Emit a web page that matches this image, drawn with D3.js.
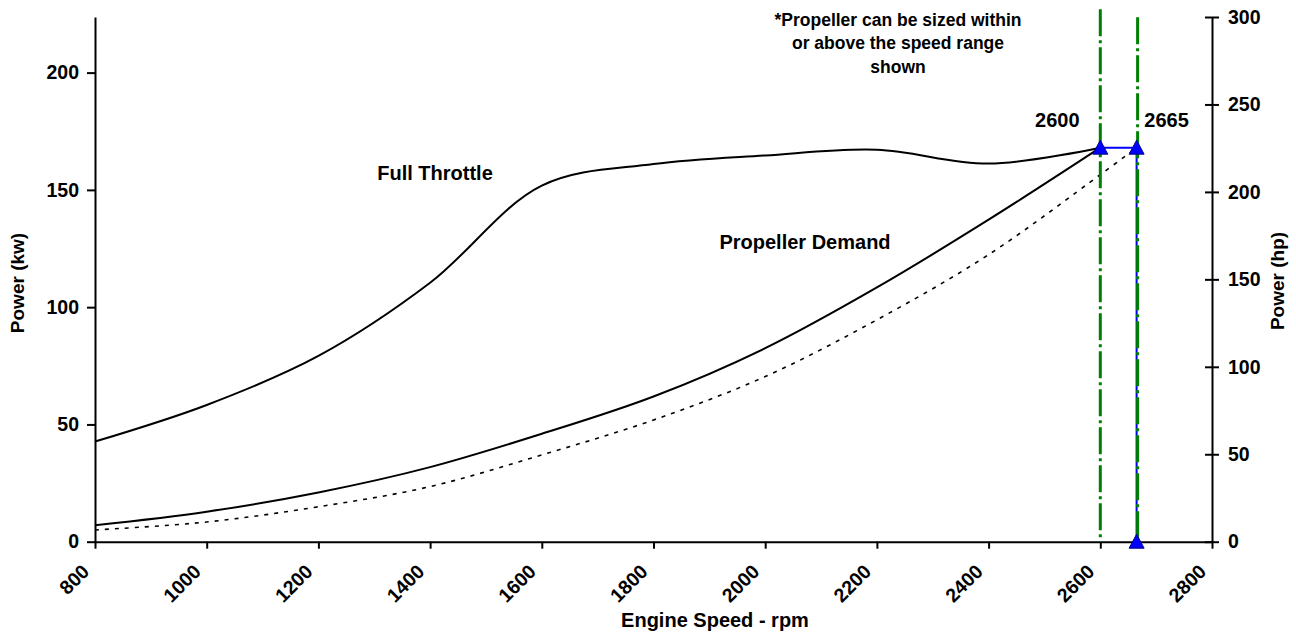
<!DOCTYPE html>
<html>
<head>
<meta charset="utf-8">
<script src="https://cdn.jsdelivr.net/npm/d3@7"></script>
<style>
  body { margin: 0; background: #fff; }
  svg text { font-family: "Liberation Sans", Arial, sans-serif; font-weight: bold; fill: #000; }
</style>
</head>
<body>
<div id="chart"></div>
<script>
// engine speed (rpm) where the curves were read
var rpm = [800, 1000, 1200, 1400, 1600, 1800, 2000, 2200, 2400, 2600];
// power in kW
var fullThrottle = [42.7, 58.3, 79.2, 110.4, 151.8, 161.0, 164.7, 167.1, 161.2, 168.0];
var propDemand = [7.0, 12.8, 21.0, 31.8, 46.0, 61.9, 82.5, 108.4, 137.3, 168.0];
var propRpmHigh = [800, 1000, 1200, 1400, 1600, 1800, 2000, 2200, 2400, 2600, 2665];
var propDemandHigh = [5.0, 8.4, 14.9, 23.5, 37.0, 51.9, 70.4, 94.6, 122.4, 156.5, 168.0];
// rated point + speed range markers
var ratedRpm = [2600, 2665];
var ratedKw = 168.0;
var rangeTopKw = 227;

var xTicks = [800, 1000, 1200, 1400, 1600, 1800, 2000, 2200, 2400, 2600, 2800];
var kwTicks = [0, 50, 100, 150, 200];
var hpTicks = [0, 50, 100, 150, 200, 250, 300];
var note = ["*Propeller can be sized within", "or above the speed range", "shown"];

var W = 1296, H = 635;
var plotL = 95, plotR = 1212, plotT = 17, plotB = 541.7;

var svg = d3.select("#chart").append("svg")
    .attr("width", W).attr("height", H);

var x = d3.scaleLinear().domain([800, 2800]).range([plotL, plotR]);
var yHp = d3.scaleLinear().domain([0, 300]).range([plotB, plotT]);
var yKw = d3.scaleLinear().domain([0, 300 * 0.7457]).range([plotB, plotT]);

// axes
var gx = svg.append("g").attr("transform", "translate(0," + plotB + ")")
    .call(d3.axisBottom(x).tickValues(xTicks).tickSizeInner(7).tickSizeOuter(0).tickFormat(d3.format("d")));
gx.selectAll("text")
    .attr("text-anchor", "end")
    .attr("transform", "translate(-5,31) rotate(-45)")
    .attr("x", 0).attr("y", 0).attr("dy", "0")
    .style("font-size", "19.5px");

var gl = svg.append("g").attr("transform", "translate(" + plotL + ",0)")
    .call(d3.axisLeft(yKw).tickValues(kwTicks).tickSizeInner(8).tickSizeOuter(0).tickPadding(8));
gl.selectAll("text").style("font-size", "19.5px");

var gr = svg.append("g").attr("transform", "translate(" + plotR + ",0)")
    .call(d3.axisRight(yHp).tickValues(hpTicks).tickSizeInner(7).tickSizeOuter(0).tickPadding(9));
gr.selectAll(".tick line").attr("x1", -7);
gr.selectAll("text").style("font-size", "19.5px");

svg.selectAll(".domain").attr("stroke", "#000").attr("stroke-width", 2);
svg.selectAll(".tick line").attr("stroke", "#000").attr("stroke-width", 2);
svg.selectAll(".tick text").attr("fill", "#000");

// axis titles
svg.append("text").attr("x", 715).attr("y", 627)
    .attr("text-anchor", "middle").style("font-size", "20px").text("Engine Speed - rpm");
svg.append("text").attr("transform", "translate(24,283) rotate(-90)")
    .attr("text-anchor", "middle").style("font-size", "19px").text("Power (kw)");
svg.append("text").attr("transform", "translate(1284,281) rotate(-90)")
    .attr("text-anchor", "middle").style("font-size", "19px").text("Power (hp)");

// curves
var line = d3.line()
    .x(function(d) { return x(d[0]); })
    .y(function(d) { return yKw(d[1]); })
    .curve(d3.curveCatmullRom.alpha(0.5));

svg.append("path").datum(d3.zip(rpm, fullThrottle))
    .attr("d", line).attr("fill", "none").attr("stroke", "#000").attr("stroke-width", 2);
svg.append("path").datum(d3.zip(rpm, propDemand))
    .attr("d", line).attr("fill", "none").attr("stroke", "#000").attr("stroke-width", 2);
svg.append("path").datum(d3.zip(propRpmHigh, propDemandHigh))
    .attr("d", line).attr("fill", "none").attr("stroke", "#000").attr("stroke-width", 1.6)
    .attr("stroke-dasharray", "4,6");

// blue rated power line
var bluePts = [[ratedRpm[0], ratedKw], [ratedRpm[1], ratedKw], [ratedRpm[1], 0]];
svg.append("path").datum(bluePts)
    .attr("d", d3.line().x(function(d) { return x(d[0]); }).y(function(d) { return yKw(d[1]); }))
    .attr("fill", "none").attr("stroke", "#0000ff").attr("stroke-width", 2);

// speed range (green dash-dot), drawn over the blue line
svg.selectAll(".range").data(ratedRpm).enter().append("line")
    .attr("class", "range")
    .attr("x1", function(d, k) { return x(d) + k; }).attr("x2", function(d, k) { return x(d) + k; })
    .attr("y1", function(d, k) { return yKw(rangeTopKw) + k * 8; }).attr("y2", yKw(0))
    .attr("stroke", "#008000").attr("stroke-width", 3)
    .attr("stroke-dasharray", "27,4,3,4");

// markers
svg.selectAll(".mark").data(bluePts).enter().append("path")
    .attr("class", "mark")
    .attr("transform", function(d) { return "translate(" + x(d[0]) + "," + yKw(d[1]) + ")"; })
    .attr("d", "M0,-7.5L7.5,6.5L-7.5,6.5Z")
    .attr("fill", "#0000ff").attr("stroke", "#00008b").attr("stroke-width", 1);

// labels
svg.append("text").attr("x", 435).attr("y", 180).attr("text-anchor", "middle")
    .style("font-size", "20px").text("Full Throttle");
svg.append("text").attr("x", 805).attr("y", 249).attr("text-anchor", "middle")
    .style("font-size", "20px").text("Propeller Demand");
svg.append("text").attr("x", x(ratedRpm[0]) - 43).attr("y", 127).attr("text-anchor", "middle")
    .style("font-size", "20px").text(ratedRpm[0]);
svg.append("text").attr("x", x(ratedRpm[1]) + 30).attr("y", 127).attr("text-anchor", "middle")
    .style("font-size", "20px").text(ratedRpm[1]);

svg.append("g").selectAll("text").data(note).enter().append("text")
    .attr("x", 898).attr("y", function(d, k) { return 26 + k * 23.3; })
    .attr("text-anchor", "middle").style("font-size", "17.5px")
    .text(function(d) { return d; });
</script>
</body>
</html>
